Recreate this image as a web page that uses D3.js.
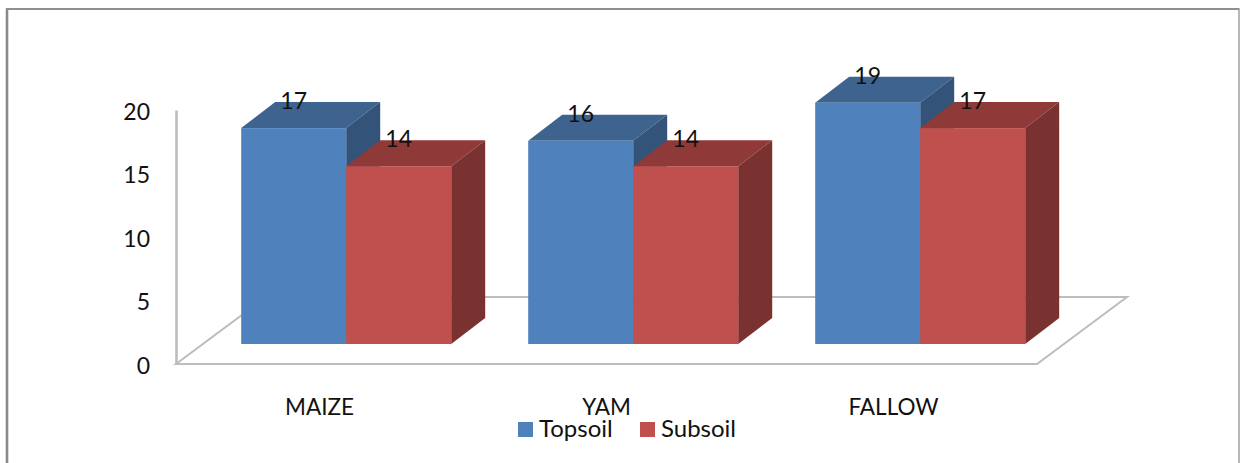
<!DOCTYPE html>
<html>
<head>
<meta charset="utf-8">
<script src="https://cdn.jsdelivr.net/npm/d3@7/dist/d3.min.js"></script>
<style>
  html, body { margin: 0; padding: 0; background: #fff; }
  svg { display: block; }
  text { font-family: Lato, "Open Sans", sans-serif; fill: #111; }
</style>
</head>
<body>
<svg id="chart" width="1244" height="463"></svg>
<script>
// Soil measurements per land use, by depth
const categories = ["MAIZE", "YAM", "FALLOW"];
const seriesNames = ["Topsoil", "Subsoil"];
const topsoil = [17, 16, 19];
const subsoil = [14, 14, 17];
const yTicks = [0, 5, 10, 15, 20];

const palette = {
  Topsoil: { front: "#4f81bd", top: "#3e638f", side: "#335379" },
  Subsoil: { front: "#c0504d", top: "#8f3a38", side: "#7a3230" }
};

const svg = d3.select("#chart");
const fontSize = 23;
const axisGrey = "#bdbdbd";

// Oblique projection: depth moves up and to the right
const floorDepth = { dx: 90, dy: -67 };
const barDepth = { dx: 34, dy: -26 };
const barInset = { dx: 26.7, dy: -20 };
const barWidth = 105;

const x = d3.scaleBand().domain(categories).range([176, 1037]);
const y = d3.scaleLinear().domain([0, 20]).range([364, 110]);
const base = y(0);

// Outer chart frame, open along the bottom edge
const frame = svg.append("g").attr("fill", "none");
frame.append("path").attr("d", "M7,463V8.5").attr("stroke", "#8a8a8a").attr("stroke-width", 2.6);
frame.append("path").attr("d", "M6,9H1239").attr("stroke", "#8f8f8f").attr("stroke-width", 2);
frame.append("path").attr("d", "M1239,8V463").attr("stroke", "#999").attr("stroke-width", 1.4);

// Floor of the 3D plot
const [x0, x1] = x.range();
svg.append("path")
  .attr("d", d3.line()([
    [x0, base], [x1, base],
    [x1 + floorDepth.dx, base + floorDepth.dy],
    [x0 + floorDepth.dx, base + floorDepth.dy]
  ]) + "Z")
  .attr("fill", "#fff")
  .attr("stroke", axisGrey)
  .attr("stroke-width", 2)
  .attr("stroke-linejoin", "miter");

// Value axis
const yAxis = svg.append("g")
  .attr("transform", `translate(${x0},0)`)
  .call(d3.axisLeft(y).tickValues(yTicks).tickSize(0).tickPadding(26));
yAxis.select(".domain").attr("stroke", axisGrey).attr("stroke-width", 2.6);
yAxis.selectAll("text").style("font-size", fontSize + "px").attr("text-anchor", "end").attr("dy", "0.4em");

// Bars: one record per category and series
const rows = categories.flatMap((c, i) => [
  { cat: c, name: seriesNames[0], value: topsoil[i], k: 0 },
  { cat: c, name: seriesNames[1], value: subsoil[i], k: 1 }
]);

const bars = svg.append("g").selectAll("g").data(rows).join("g");

const frontLeft = d => x(d.cat) + x.bandwidth() / 2 + barInset.dx + (d.k - 1) * barWidth;
const topY = d => y(d.value) + barInset.dy;
const baseY = base + barInset.dy;

bars.append("path") // top face
  .attr("d", d => {
    const l = frontLeft(d), t = topY(d);
    return d3.line()([[l, t], [l + barWidth, t],
      [l + barWidth + barDepth.dx, t + barDepth.dy], [l + barDepth.dx, t + barDepth.dy]]) + "Z";
  })
  .attr("fill", d => palette[d.name].top);

bars.append("path") // side face
  .attr("d", d => {
    const r = frontLeft(d) + barWidth, t = topY(d);
    return d3.line()([[r, t], [r + barDepth.dx, t + barDepth.dy],
      [r + barDepth.dx, baseY + barDepth.dy], [r, baseY]]) + "Z";
  })
  .attr("fill", d => palette[d.name].side);

bars.append("rect") // front face
  .attr("x", frontLeft)
  .attr("y", topY)
  .attr("width", barWidth)
  .attr("height", d => baseY - topY(d))
  .attr("fill", d => palette[d.name].front);

// Value labels sit over the top face of each bar
svg.append("g").selectAll("text").data(rows).join("text")
  .attr("x", d => frontLeft(d) + barWidth / 2)
  .attr("y", d => topY(d) - 19)
  .attr("text-anchor", "middle")
  .style("font-size", fontSize + "px")
  .text(d => d.value);

// Category labels
svg.append("g").selectAll("text").data(categories).join("text")
  .attr("x", d => x(d) + x.bandwidth() / 2)
  .attr("y", 415)
  .attr("text-anchor", "middle")
  .style("font-size", "22.5px")
  .text(d => d);

// Legend
const legendX = d3.scaleOrdinal().domain(seriesNames).range([518, 640]);
const legend = svg.append("g").selectAll("g").data(seriesNames).join("g")
  .attr("transform", d => `translate(${legendX(d)},422)`);
legend.append("rect")
  .attr("width", 15).attr("height", 15)
  .attr("fill", d => palette[d].front);
legend.append("text")
  .attr("x", 21).attr("y", 15)
  .style("font-size", "24px")
  .text(d => d);
</script>
</body>
</html>
